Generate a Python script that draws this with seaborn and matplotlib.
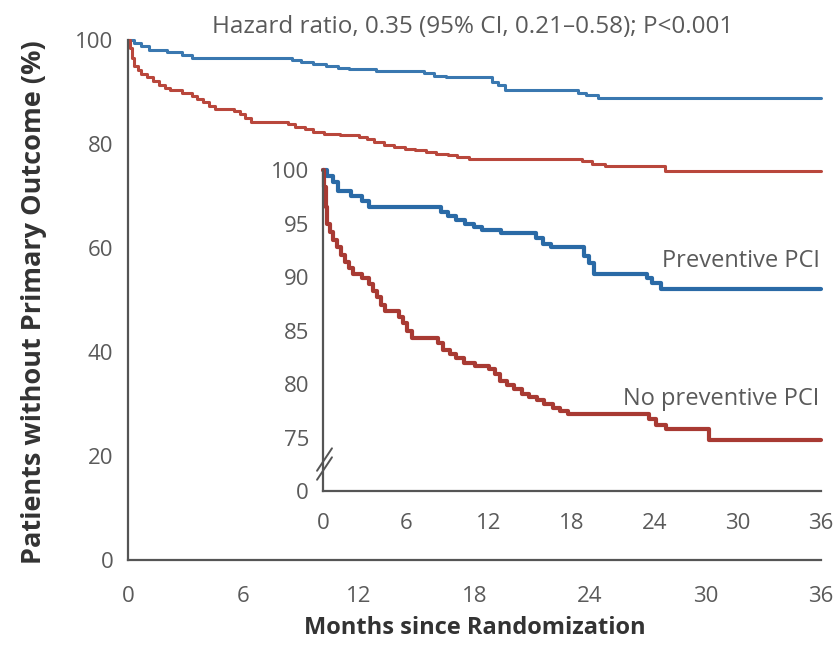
import numpy as np
import pandas as pd
import matplotlib
matplotlib.use("Agg")
import matplotlib.pyplot as plt
import seaborn as sns
from matplotlib.lines import Line2D

# ---------------- data ----------------
prev_months = [0, 0.3, 0.7, 1.1, 2.0, 2.8, 3.3, 8.5, 9.0, 9.6, 10.3, 10.9, 11.5, 12.9, 15.4, 15.9, 16.5,
               18.9, 19.2, 19.6, 23.4, 23.8, 24.4, 36]
prev_surv   = [100, 99.4, 98.9, 98.0, 97.6, 97.1, 96.5, 96.1, 95.7, 95.3, 95.0, 94.7, 94.4, 94.1, 93.6, 93.1, 92.8,
               92.0, 91.3, 90.3, 89.9, 89.4, 88.9, 88.9]

nop_months = [0, 0.1, 0.2, 0.3, 0.5, 0.7, 1.0, 1.3, 1.6, 1.9, 2.2, 2.8, 3.3, 3.6, 3.9, 4.2, 4.5, 5.5, 5.8,
              6.1, 6.4, 8.3, 8.7, 9.2, 9.6, 10.2, 11.0, 12.0, 12.4, 12.8, 13.3, 13.8, 14.4, 14.9, 15.5, 16.0,
              16.6, 17.1, 17.7, 23.6, 24.1, 24.8, 27.9, 36]
nop_surv   = [100, 98.4, 96.5, 95.0, 94.2, 93.5, 92.8, 92.1, 91.4, 90.8, 90.3, 89.9, 89.3, 88.7, 88.1, 87.4, 86.8,
              86.3, 85.7, 85.0, 84.3, 83.8, 83.2, 82.8, 82.4, 82.0, 81.7, 81.4, 80.9, 80.3, 79.9, 79.5, 79.1,
              78.8, 78.5, 78.1, 77.8, 77.5, 77.2, 76.7, 76.2, 75.8, 74.8, 74.8]

groups = ["Preventive PCI", "No preventive PCI"]
x_ticks = [0, 6, 12, 18, 24, 30, 36]
main_y_ticks = [0, 20, 40, 60, 80, 100]
inset_y_ticks = [75, 80, 85, 90, 95, 100]
title_text = "Hazard ratio, 0.35 (95% CI, 0.21\u20130.58); P<0.001"
x_label = "Months since Randomization"
y_label = "Patients without Primary Outcome (%)"

df = pd.concat([
    pd.DataFrame({"month": prev_months, "surv": prev_surv, "group": groups[0]}),
    pd.DataFrame({"month": nop_months, "surv": nop_surv, "group": groups[1]}),
], ignore_index=True)

# ---------------- style ----------------
sns.set_theme(style="white")
plt.rcParams["font.family"] = ["Open Sans", "DejaVu Sans"]
TXT = "#5a5a5a"
AX = "#555555"
pal_main = {groups[0]: "#3a78b0", groups[1]: "#b9473c"}
pal_inset = {groups[0]: "#2a6aa6", groups[1]: "#a83a33"}

fig = plt.figure(figsize=(8.35, 6.63), dpi=100)

def style_axes(ax, xlen, xpad, ylen, ypad):
    for s in ["top", "right"]:
        ax.spines[s].set_visible(False)
    for s in ["left", "bottom"]:
        ax.spines[s].set_color(AX)
        ax.spines[s].set_linewidth(1.6)
    ax.tick_params(axis="x", direction="out", length=xlen, width=1.6, color=AX,
                   labelcolor=TXT, labelsize=16, pad=xpad)
    ax.tick_params(axis="y", direction="out", length=ylen, width=1.6, color=AX,
                   labelcolor=TXT, labelsize=16, pad=ypad)
    ax.set_facecolor("none")
    ax.grid(False)

# main axes
ax = fig.add_axes([128/835, 1-560/663, (821-128)/835, 520/663])
sns.lineplot(data=df, x="month", y="surv", hue="group", palette=pal_main, estimator=None,
             drawstyle="steps-post", linewidth=2.2, legend=False, ax=ax)
for ln in ax.lines:
    ln.set_clip_on(False)
ax.set_xlim(0, 36)
ax.set_ylim(0, 100)
ax.set_xticks(x_ticks)
ax.set_yticks(main_y_ticks)
style_axes(ax, 12, 6.5, 9, 1.5)
ax.set_xlabel(x_label, fontsize=17, fontweight="bold", color="#333333", labelpad=7)
ax.set_ylabel(y_label, fontsize=19.5, fontweight="bold", color="#333333")
ax.yaxis.set_label_coords(-0.117, 0.495)

fig.text(473/835, 1-27/663, title_text, ha="center", va="center", fontsize=17.5, color=TXT)

# inset axes
ins = fig.add_axes([323/835, 1-491/663, (821-323)/835, (491-170)/663])
sns.lineplot(data=df, x="month", y="surv", hue="group", palette=pal_inset, estimator=None,
             drawstyle="steps-post", linewidth=3.0, legend=False, ax=ins)
for ln in ins.lines:
    ln.set_clip_on(False)
ins.set_xlim(0, 36)
ins.set_ylim(70, 100)
ins.set_xticks(x_ticks)
ins.set_yticks([70] + inset_y_ticks)
ins.set_yticklabels(["0"] + [str(v) for v in inset_y_ticks])
style_axes(ins, 10, 6, 8, 2)
ins.set_xlabel("")
ins.set_ylabel("")

# axis break marks on inset y-axis
for dy in (0.0, 0.028):
    ins.add_line(Line2D([-0.012, 0.018], [0.035 + dy, 0.105 + dy], transform=ins.transAxes,
                        color=AX, linewidth=1.4, clip_on=False))

ins.text(35.9, 91.5, groups[0], ha="right", va="center", fontsize=17, color=TXT)
ins.text(35.9, 78.6, groups[1], ha="right", va="center", fontsize=17, color=TXT)

fig.savefig("out.png", dpi=100)
